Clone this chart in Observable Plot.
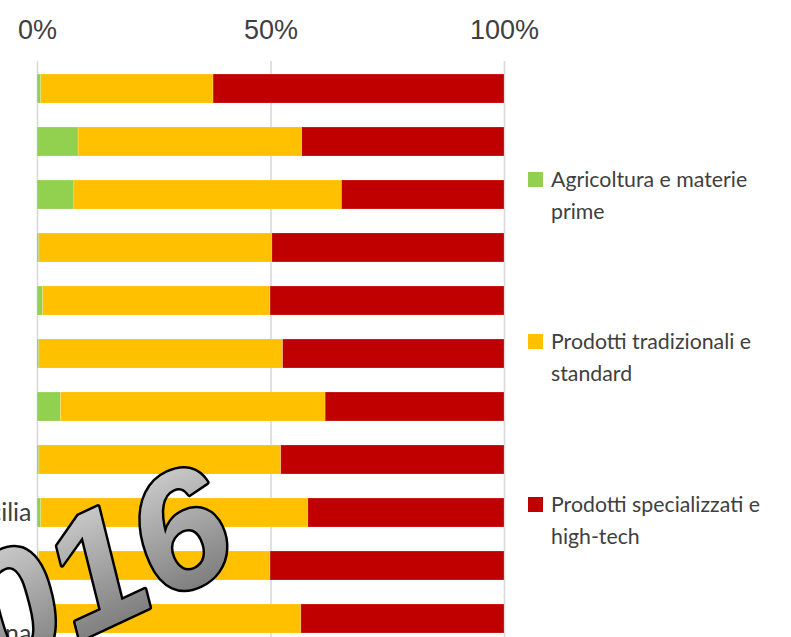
<!DOCTYPE html>
<html>
<head>
<meta charset="utf-8">
<script src="https://cdn.jsdelivr.net/npm/d3@7"></script>
<script src="https://cdn.jsdelivr.net/npm/@observablehq/plot@0.6"></script>
<style>
  html, body { margin: 0; padding: 0; background: #fff; overflow: hidden; }
  #wrap { position: relative; width: 791px; height: 637px; overflow: hidden; }
  .leg { position: absolute; left: 528px; font-family: Lato, "Open Sans", sans-serif; font-size: 21.3px; line-height: 32px; color: #404040; white-space: nowrap; }
  .leg .sw { position: absolute; left: 0; width: 15px; height: 15px; }
  .leg .tx { position: absolute; left: 23px; top: 0; }
</style>
</head>
<body>
<div id="wrap"></div>
<script>
// ---- data (percent shares per row, top to bottom) ----
const regions = ["r1","r2","r3","r4","r5","r6","r7","r8","r9","r10","r11"];
const regionLabels = ["","","","","","","","","Sicilia","","Sardegna"];
const series = ["Agricoltura e materie prime", "Prodotti tradizionali e standard", "Prodotti specializzati e high-tech"];
const legendLines = ["Agricoltura e materie<br>prime", "Prodotti tradizionali e<br>standard", "Prodotti specializzati e<br>high-tech"];
const colors = ["#92D050", "#FFC000", "#C00000"];
const agricoltura  = [0.8, 8.8, 7.9, 0.4, 1.2, 0.4, 5.0, 0.4, 0.8, 0.3, 1.3];
const tradizionali = [36.9, 47.9, 57.3, 49.9, 48.7, 52.2, 56.7, 51.8, 57.2, 49.6, 55.2];
const specializzati = [62.3, 43.3, 34.8, 49.7, 50.1, 47.4, 38.3, 47.8, 42.0, 50.1, 43.5];
const xTicks = [0, 50, 100];
const stamp = ["2016"];

const seriesValues = [agricoltura, tradizionali, specializzati];
const data = [];
regions.forEach((r, i) => {
  series.forEach((s, j) => data.push({region: r, series: s, value: seriesValues[j][i]}));
});
const labelOf = d => regionLabels[regions.indexOf(d)];
const yAxisStyle = {anchor: "left", tickSize: 0, tickPadding: 6, label: null, tickFormat: labelOf,
  fontSize: 25, fontFamily: "Lato, sans-serif", fill: "#404040"};

const chart = Plot.plot({
  width: 791,
  height: 648,
  marginLeft: 37,
  marginRight: 287,
  marginTop: 61,
  marginBottom: 1,
  x: {domain: [0, 100], label: null},
  y: {domain: regions, paddingInner: 0.452, paddingOuter: 0.206, label: null},
  color: {domain: series, range: colors},
  marks: [
    Plot.gridX(xTicks, {stroke: "#d9d9d9", strokeOpacity: 1, strokeWidth: 1.6}),
    Plot.barX(data, Plot.stackX({x: "value", y: "region", fill: "series", order: series, stroke: "#fff", strokeOpacity: 0.35, strokeWidth: 0.6})),
    Plot.axisX({anchor: "top", ticks: xTicks, tickFormat: d => d + "%", tickSize: 0, tickPadding: 23, label: null,
      fontSize: 27, fontFamily: "Liberation Sans, Arial, sans-serif", fill: "#404040"}),
    Plot.axisY({...yAxisStyle, ticks: [regions[8]]}),
    Plot.axisY({...yAxisStyle, ticks: [regions[10]], dy: 15}),
    Plot.text(stamp, {text: d => d, frameAnchor: "top-left", dx: 18, dy: 532, rotate: -25,
      fontSize: 165, fontWeight: "bold", fontStyle: "italic", fontFamily: "Liberation Sans, Arial, sans-serif",
      fill: "url(#g2016)", stroke: "#000", strokeWidth: 5, paintOrder: "stroke", textAnchor: "middle", lineAnchor: "middle"})
  ]
});

// gradient for the stamp
const svg = d3.select(chart);
const defs = svg.insert("defs", ":first-child");
const lg = defs.append("linearGradient").attr("id", "g2016").attr("x1", 0).attr("y1", 0).attr("x2", 0).attr("y2", 1);
lg.append("stop").attr("offset", "0%").attr("stop-color", "#dcdcdc");
lg.append("stop").attr("offset", "100%").attr("stop-color", "#6a6a6a");

const wrap = document.getElementById("wrap");
wrap.appendChild(chart);

// legend
const legTops = [163, 325, 488];
series.forEach((s, i) => {
  const item = document.createElement("div");
  item.className = "leg";
  item.style.top = legTops[i] + "px";
  item.innerHTML = `<div class="sw" style="top:9px;background:${colors[i]}"></div><div class="tx">${legendLines[i]}</div>`;
  wrap.appendChild(item);
});
</script>
</body>
</html>
